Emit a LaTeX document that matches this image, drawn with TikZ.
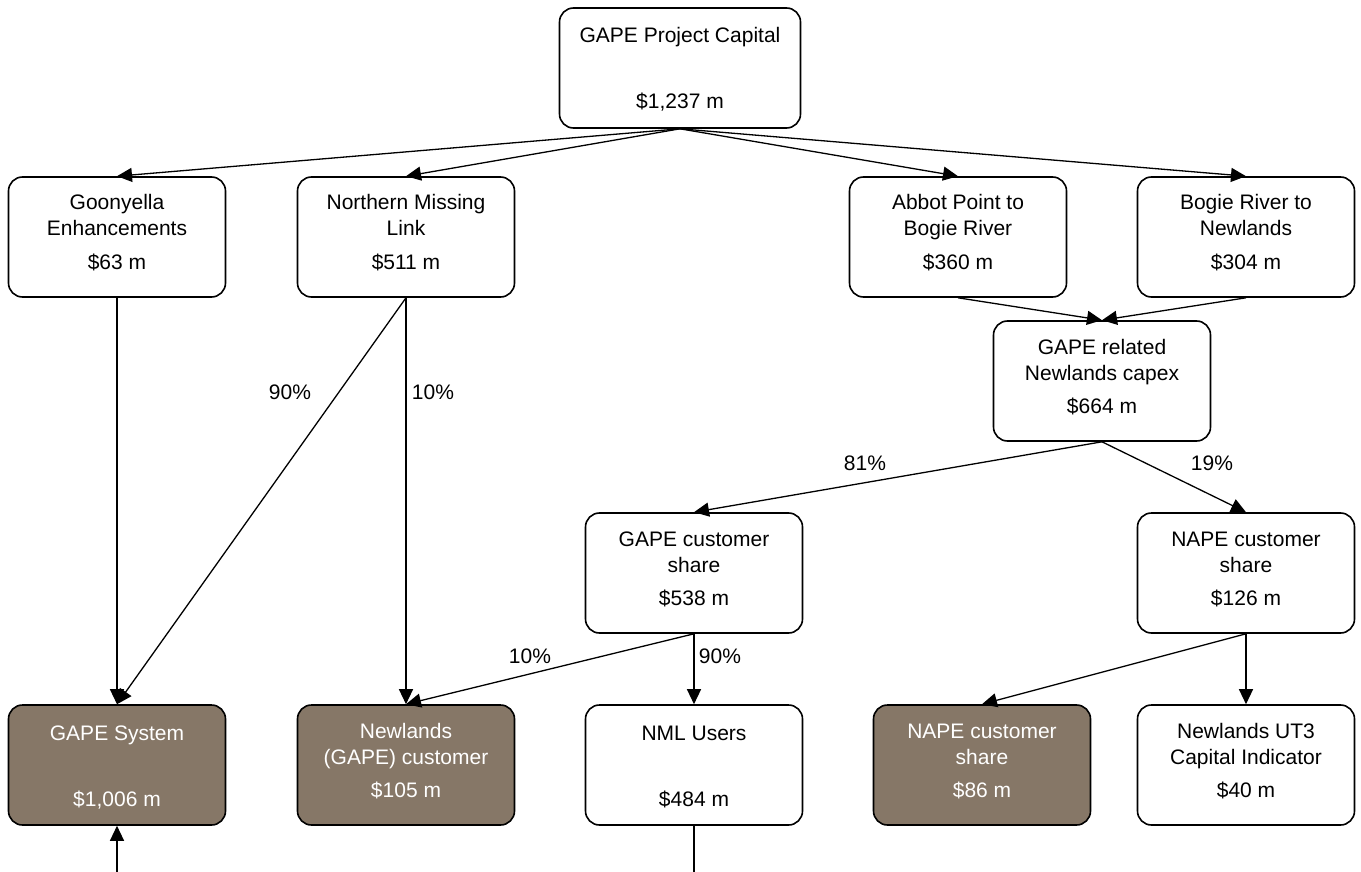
\documentclass[tikz,border=0pt]{standalone}
\usepackage{fontspec}
\setmainfont{Liberation Sans}
\usetikzlibrary{arrows.meta}
\definecolor{brownfill}{RGB}{134,119,103}
\tikzset{
  box/.style={draw=black, line width=1.6pt, rounded corners=14pt, minimum width=217pt, minimum height=120pt, inner sep=0pt, fill=white},
  topbox/.style={box, minimum width=241pt},
  brownbox/.style={box, fill=brownfill},
  txt/.style={anchor=base, inner sep=0pt, font=\fontsize{21}{25}\selectfont, text=black},
  wtxt/.style={txt, text=white},
  conn/.style={line width=1.3pt, -{Triangle[length=15pt,width=14pt]}},
  plain/.style={line width=1.3pt},
  pct/.style={inner sep=0pt, font=\fontsize{21}{25}\selectfont}
}
% two-line title: name, cx, top, boxstyle, textstyle, line1, line2, value
\newcommand\boxtwo[8]{%
  \node[#4] (#1) at (#2,#3+60) {};
  \node[#5] (#1-a) at (#2,#3+33) {#6};
  \node[#5] (#1-b) at (#2,#3+59) {#7};
  \node[#5] (#1-v) at (#2,#3+92) {#8};
}
% one-line title: name, cx, top, boxstyle, textstyle, line1, value
\newcommand\boxone[7]{%
  \node[#4] (#1) at (#2,#3+60) {};
  \node[#5] (#1-a) at (#2,#3+35) {#6};
  \node[#5] (#1-v) at (#2,#3+101) {#7};
}
\begin{document}
\begin{tikzpicture}[x=1pt,y=-1pt]
\useasboundingbox (0,0) rectangle (1361,872);
% boxes
\boxone{top}{680}{8}{topbox}{txt}{GAPE Project Capital}{\$1,237 m}
\boxtwo{goon}{117}{177}{box}{txt}{Goonyella}{Enhancements}{\$63 m}
\boxtwo{nml}{406}{177}{box}{txt}{Northern Missing}{Link}{\$511 m}
\boxtwo{abbot}{958}{177}{box}{txt}{Abbot Point to}{Bogie River}{\$360 m}
\boxtwo{bogie}{1246}{177}{box}{txt}{Bogie River to}{Newlands}{\$304 m}
\boxtwo{rel}{1102}{321}{box}{txt}{GAPE related}{Newlands capex}{\$664 m}
\boxtwo{gcs}{694}{513}{box}{txt}{GAPE customer}{share}{\$538 m}
\boxtwo{ncs}{1246}{513}{box}{txt}{NAPE customer}{share}{\$126 m}
\boxone{gsys}{117}{705}{brownbox}{wtxt}{GAPE System}{\$1,006 m}
\boxtwo{newg}{406}{705}{brownbox}{wtxt}{Newlands}{(GAPE) customer}{\$105 m}
\boxone{users}{694}{705}{box}{txt}{NML Users}{\$484 m}
\boxtwo{napeb}{982}{705}{brownbox}{wtxt}{NAPE customer}{share}{\$86 m}
\boxtwo{ut3}{1246}{705}{box}{txt}{Newlands UT3}{Capital Indicator}{\$40 m}
% free ends
\coordinate (in1) at (117,872);
\coordinate (out1) at (694,872);
% connectors
\draw[conn] (top.south) -- (goon.north);
\draw[conn] (top.south) -- (nml.north);
\draw[conn] (top.south) -- (abbot.north);
\draw[conn] (top.south) -- (bogie.north);
\draw[conn] (goon.south) -- (gsys.north);
\draw[conn] (nml.south) -- (gsys.north);
\draw[conn] (nml.south) -- (newg.north);
\draw[conn] (abbot.south) -- (rel.north);
\draw[conn] (bogie.south) -- (rel.north);
\draw[conn] (rel.south) -- (gcs.north);
\draw[conn] (rel.south) -- (ncs.north);
\draw[conn] (gcs.south) -- (newg.north);
\draw[conn] (gcs.south) -- (users.north);
\draw[conn] (ncs.south) -- (napeb.north);
\draw[conn] (ncs.south) -- (ut3.north);
\draw[conn] (in1) -- (gsys.south);
\draw[plain] (users.south) -- (out1);
% percentage labels
\node[pct] (p90a) at (290,392) {90\%};
\node[pct] (p10a) at (433,392) {10\%};
\node[pct] (p81) at (865,463) {81\%};
\node[pct] (p19) at (1212,463) {19\%};
\node[pct] (p10b) at (530,656) {10\%};
\node[pct] (p90b) at (720,656) {90\%};
\end{tikzpicture}
\end{document}
